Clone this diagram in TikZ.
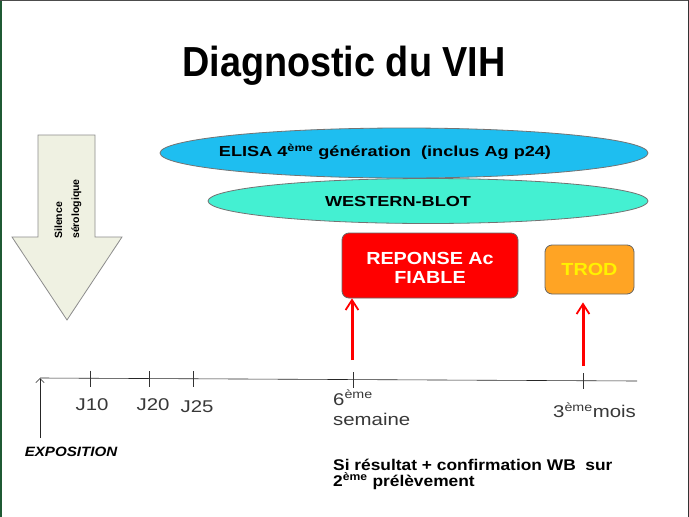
\documentclass[tikz,border=0pt]{standalone}
\usepackage{fontspec}
\setmainfont{Liberation Sans}
\newfontfamily\titlefont[FakeStretch=0.9]{Liberation Sans}
\newfontfamily\ovalfont[FakeStretch=1.25]{Liberation Sans}
\newfontfamily\boxfont[FakeStretch=1.13]{Liberation Sans}
\newfontfamily\datefont[FakeStretch=1.2]{Liberation Sans}
\newfontfamily\notefont[FakeStretch=1.12]{Liberation Sans}
\usepackage{xcolor}
\definecolor{elisablue}{HTML}{1EBEF0}
\definecolor{wbgreen}{HTML}{44F0D2}
\definecolor{silencefill}{HTML}{EFF1E2}
\definecolor{trodorange}{HTML}{FFA424}
\definecolor{framegreen}{HTML}{1F5A34}
\definecolor{dategray}{HTML}{383838}
\usepackage{tikz}
\usetikzlibrary{shapes.geometric, arrows.meta, positioning}
\newcommand{\supe}[1]{\textsuperscript{#1}}

\begin{document}
\begin{tikzpicture}[
      x=1pt, y=-1pt,
      bigtxt/.style={font=\ovalfont\fontsize{14.5}{17}\selectfont\bfseries},
      oval/.style={ellipse, draw=black!55, thick, inner sep=0pt},
      result/.style={rectangle, rounded corners=7pt, draw=black!60, thick,
                     align=center, inner sep=0pt,
                     font=\boxfont\fontsize{17.5}{19}\selectfont\bfseries},
      redup/.style={-{Straight Barb[length=3.5mm, width=4.5mm, line width=1.8pt]},
                    draw=red, line width=3pt},
      tick/.style={draw=black!80, semithick},
      datelbl/.style={font=\datefont\fontsize{17}{20}\selectfont, text=dategray,
                      align=left, inner sep=0pt},
    ]
    \useasboundingbox (0,0) rectangle (689,517);
    \fill[white] (0,0) rectangle (689,517);
    % frame of the slide
    \draw[framegreen, line width=1.5pt] (0.75,0) -- (0.75,517);
    \draw[black!70, line width=1pt] (0,0.5) -- (689,0.5);
    \draw[black!80, line width=1.2pt] (688.4,0) -- (688.4,517);

    \node[font=\titlefont\fontsize{42}{46}\selectfont\bfseries] (title) at (344,66) {Diagnostic du VIH};

    % silence serologique
    \draw[black!45, fill=silencefill, thick] (38,135) -- (95,135) -- (95,237) -- (122,237)
      -- (67,320) -- (12,237) -- (38,237) -- cycle;
    \node[rotate=90, anchor=west, align=left, inner sep=0pt,
          font=\fontsize{10.5}{17}\selectfont\bfseries] (silence) at (68,239)
          {Silence\\sérologique};

    % tests
    \node[oval, fill=elisablue, minimum width=488, minimum height=50] (elisa) at (404,153) {};
    \node[bigtxt] (elisatxt) at (385,152) {ELISA 4\supe{ème} génération\ \ (inclus Ag p24)};
    \node[oval, fill=wbgreen, minimum width=440, minimum height=45] (wb) at (428,201) {};
    \node[bigtxt] (wbtxt) at (398,202) {WESTERN-BLOT};

    \node[result, fill=red, text=white, minimum width=176, minimum height=65] (fiable)
          at (430,265.5) {};
    \node[align=center, inner sep=0pt, text=white,
          font=\boxfont\fontsize{17.5}{19}\selectfont\bfseries] (fiabletxt)
          at (430,268) {REPONSE Ac\\FIABLE};
    \node[result, fill=trodorange, text=yellow, minimum width=89, minimum height=49] (trod)
          at (589.5,269.5) {TROD};

    % timeline
    \coordinate (t0) at (40,378);
    \coordinate (tend) at (637,381);
    \draw[black!85, semithick] (t0) -- (tend);
    \coordinate (expo) at (40,438);
    \draw[-{Straight Barb[length=1.5mm]}, black!85, semithick] (expo) -- (t0);
    \foreach \tx/\ty/\name in {90/378.5/j10, 149/379/j20, 193/379.3/j25, 353/380/s6, 583/381/m3}
      \draw[tick] (\tx,\ty-8) coordinate (\name) -- (\tx,\ty+8);

    \node[datelbl] (lj10) at (92,405) {J10};
    \node[datelbl] (lj20) at (153,405) {J20};
    \node[datelbl] (lj25) at (197,407) {J25};
    \node[datelbl, anchor=north west] (ls6) at (333,390) {6\supe{ème}\\semaine};
    \node[datelbl, anchor=west] (lm3) at (553,410) {3\supe{ème}mois};

    \coordinate (s6foot) at (352,360);
    \coordinate (m3foot) at (583,366);
    \draw[redup] (s6foot) -- (fiable.south -| s6foot);
    \draw[redup] (m3foot) -- ([yshift=-8pt]trod.south -| m3foot);

    \node[font=\notefont\fontsize{13.5}{15}\selectfont\bfseries\itshape] (expolbl) at (71,452) {EXPOSITION};
    \node[anchor=north west, align=left, inner sep=0pt,
          font=\notefont\fontsize{15.5}{16}\selectfont\bfseries] (confirm) at (333,458.5)
          {Si résultat + confirmation WB\ \ sur\\2\supe{ème} prélèvement};
  \end{tikzpicture}
\end{document}
